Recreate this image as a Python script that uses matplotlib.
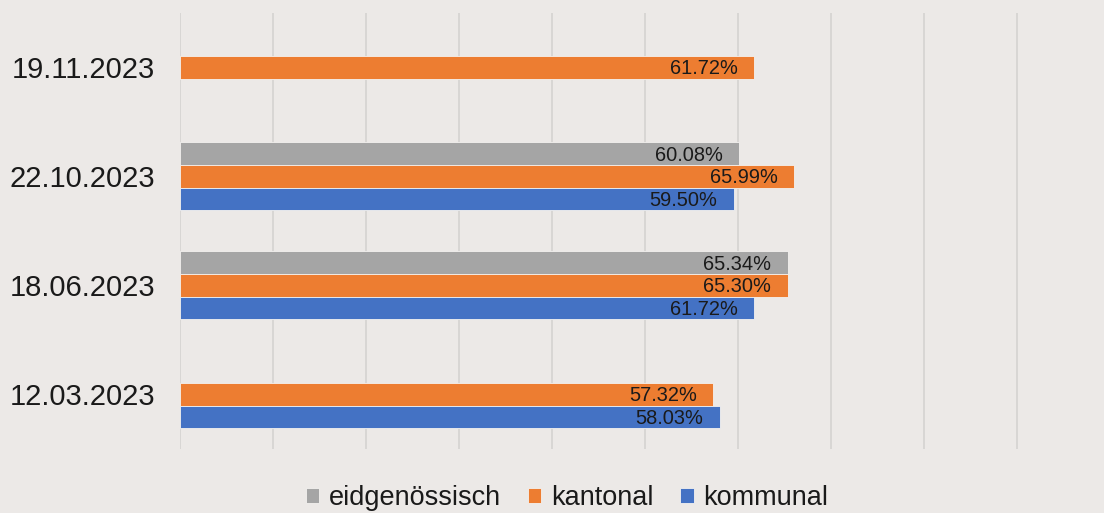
import numpy as np
import matplotlib.pyplot as plt

# Stimmbeteiligung nach Abstimmungsdatum
dates = ["12.03.2023", "18.06.2023", "22.10.2023", "19.11.2023"]
eidg = [np.nan, 65.34, 60.08, np.nan]
kant = [57.32, 65.30, 65.99, 61.72]
komm = [58.03, 61.72, 59.50, np.nan]

series = [("eidgenössisch", eidg, "#A5A5A5", 1),
          ("kantonal", kant, "#ED7D31", 0),
          ("kommunal", komm, "#4472C4", -1)]

bg = "#ECE9E7"
plt.rcParams['font.family'] = ['Liberation Sans', 'DejaVu Sans']

W, H = 1104, 513
fig = plt.figure(figsize=(W / 100, H / 100), dpi=100, facecolor=bg)
# axes in pixel coords: left 180, right at 100% (just off-canvas)
x0, x1 = 180.4, 180.4 + 930
ytop, ybot = 12.7, 449
ax = fig.add_axes([x0 / W, 1 - ybot / H, (x1 - x0) / W, (ybot - ytop) / H])
ax.set_facecolor(bg)

h = 0.208
y = np.arange(len(dates))
for name, vals, col, off in series:
    v = np.array(vals, dtype=float)
    bars = ax.barh(y + off * h, v, height=h, color=col, label=name,
                   edgecolor="#F4F2F0", linewidth=0.6)
    for b, val in zip(bars, v):
        if np.isnan(val):
            continue
        ax.annotate("{:.2f}%".format(val),
                    (b.get_width(), b.get_y() + b.get_height() / 2),
                    xytext=(-12, -1), textcoords="offset points",
                    ha="right", va="center", fontsize=14.4, color="#1a1a1a")

ax.set_xlim(0, 100)
ax.set_ylim(-0.5, 3.5)
ax.set_xticks(np.arange(0, 101, 10))
ax.set_xticklabels([])
ax.grid(axis="x", color="#D6D4D2", linewidth=1.3)
ax.set_axisbelow(True)
ax.tick_params(axis="x", length=0)
ax.tick_params(axis="y", length=0, pad=18, labelsize=21, labelcolor="#1a1a1a")
ax.set_yticks(y)
ax.set_yticklabels(dates)
for s in ax.spines.values():
    s.set_visible(False)

fig.legend(loc="center", bbox_to_anchor=(567 / W, 1 - 498 / H), ncol=3,
           frameon=False, fontsize=19.5, handlelength=0.5, handleheight=0.5,
           handletextpad=0.35, columnspacing=1.0, labelcolor="#1a1a1a")

fig.savefig("out.png", dpi=100, facecolor=bg)
